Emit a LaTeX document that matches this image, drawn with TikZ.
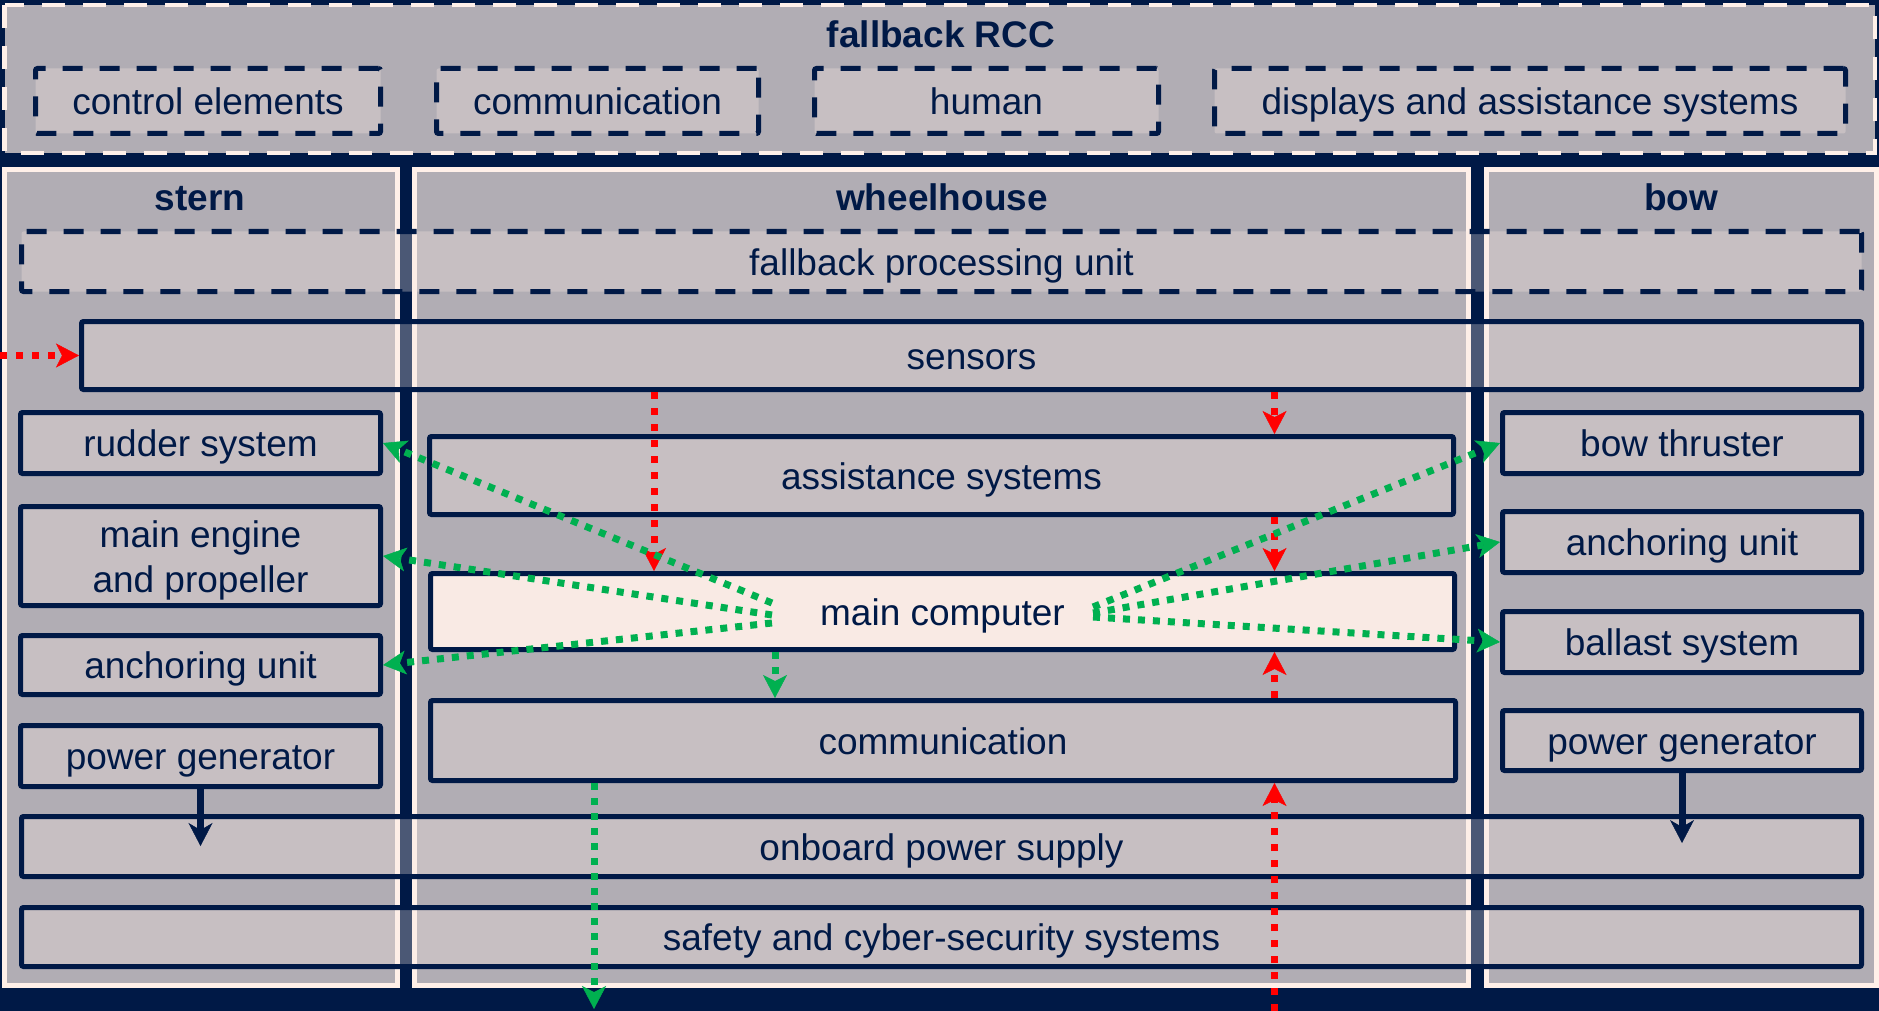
\documentclass[tikz,border=0pt]{standalone}
\usepackage{fontspec}
\setmainfont{Liberation Sans}
\usetikzlibrary{arrows.meta}

\definecolor{navy}{RGB}{0,25,70}
\definecolor{panelgray}{RGB}{177,173,180}
\definecolor{cream}{RGB}{255,240,233}
\definecolor{tint}{RGB}{250,235,228}
\definecolor{mcfill}{RGB}{249,234,228}
\definecolor{flowred}{RGB}{255,0,0}
\definecolor{flowgreen}{RGB}{0,176,80}

\newcommand\diagfont{\fontsize{37pt}{45pt}\selectfont}
\newcommand\diagbold{\fontsize{37pt}{45pt}\selectfont\bfseries}

\tikzset{
  unitbase/.style={draw=navy, line width=5pt, rounded corners=2pt,
    fill=tint, fill opacity=0.3, text opacity=1, text=navy,
    inner sep=0pt, font=\diagfont},
  unit/.style={unitbase, text height=35pt, text depth=7.5pt},
  dunit/.style={unit, dash pattern=on 20pt off 17pt},
  head/.style={text=navy, font=\diagbold, inner sep=0pt,
    text height=35pt, text depth=7.5pt},
  column/.style={fill=panelgray, draw=cream, line width=5pt},
  tip/.style={-{Stealth[length=23pt, width=24pt, inset=6pt, line width=0.5pt]}},
  redflow/.style={tip, draw=flowred, line width=7pt, dash pattern=on 7pt off 9pt},
  greenflow/.style={tip, draw=flowgreen, line width=7pt, dash pattern=on 7pt off 8pt},
  supply/.style={draw=navy, line width=7pt,
    -{Stealth[length=23pt, width=24pt, inset=7pt, line width=0.5pt]}},
}

\begin{document}
\begin{tikzpicture}[x=1pt, y=-1pt]
\useasboundingbox (0,0) rectangle (1879,1011);
\fill[navy] (0,0) rectangle (1879,1011);

% remote control centre panel
\draw[fill=panelgray, draw=cream, line width=4.5pt, dash pattern=on 23pt off 18pt]
  (4.5,5) rectangle (1875,153);
\node[head] (rcc) at (941,34) {fallback RCC};
\node[dunit, minimum width=345pt, minimum height=65pt] (ctrl) at (208,101) {control elements};
\node[dunit, minimum width=322pt, minimum height=65pt] (commrcc) at (597.5,101) {communication};
\node[dunit, minimum width=344pt, minimum height=65pt] (human) at (986.5,101) {human};
\node[dunit, minimum width=631pt, minimum height=65pt] (disp) at (1530,101) {displays and assistance systems};

% ship sections
\draw[column] (4.5,169.5) rectangle (397.5,985);
\draw[column] (414.5,169.5) rectangle (1468.5,985);
\draw[column] (1486.5,169.5) rectangle (1876.5,985);
\node[head] (stern) at (200,197) {stern};
\node[head] (wheel) at (942,197) {wheelhouse};
\node[head] (bow) at (1681,197) {bow};

% ship-wide units
\node[dunit, minimum width=1840pt, minimum height=60pt] (fpu) at (941.5,261.5) {fallback processing unit};
\node[unit, minimum width=1780pt, minimum height=68pt] (sensors) at (971.5,355.5) {sensors};
\node[unit, minimum width=1840pt, minimum height=60pt] (supplyunit) at (941.5,846.5) {onboard power supply};
\node[unit, minimum width=1840pt, minimum height=59pt] (safety) at (941.5,937) {safety and cyber-security systems};

% stern units
\node[unit, minimum width=360pt, minimum height=61pt] (rudder) at (200.5,443) {rudder system};
\node[unitbase, minimum width=360pt, minimum height=99pt, align=center] (engine) at (200.5,556)
  {\rule{0pt}{35pt}main engine\\and propeller\rule[-7.5pt]{0pt}{0pt}};
\node[unit, minimum width=360pt, minimum height=59pt] (anchS) at (200.5,665) {anchoring unit};
\node[unit, minimum width=360pt, minimum height=61pt] (pgS) at (200.5,756) {power generator};

% bow units
\node[unit, minimum width=359pt, minimum height=61pt] (thruster) at (1682,443) {bow thruster};
\node[unit, minimum width=359pt, minimum height=61pt] (anchB) at (1682,542) {anchoring unit};
\node[unit, minimum width=359pt, minimum height=61pt] (ballast) at (1682,642) {ballast system};
\node[unit, minimum width=359pt, minimum height=60pt] (pgB) at (1682,740.5) {power generator};

% wheelhouse units
\node[unit, minimum width=1024pt, minimum height=78pt] (assist) at (941.5,475.5) {assistance systems};
\node[unit, fill=mcfill, fill opacity=1, minimum width=1024pt, minimum height=76pt] (mc) at (942.5,611.5) {main computer};
\node[unit, minimum width=1025pt, minimum height=80pt] (comm) at (943,740.5) {communication};

% reference points for the connectors
\coordinate (redin) at (0,355.5);
\coordinate (xa) at (654,0);
\coordinate (xb) at (1274.5,0);
\coordinate (xc) at (775,0);
\coordinate (xd) at (594,0);
\coordinate (floor) at (0,1011);
\coordinate (floorg) at (0,1009);
\coordinate (gl1) at (772,603);
\coordinate (gl2) at (772,615);
\coordinate (gl3) at (772,623);
\coordinate (gr1) at (1093,607);
\coordinate (gr2) at (1093,613);
\coordinate (gr3) at (1093,617);
\coordinate (tipS) at (200.5,846);
\coordinate (tipB) at (1682,843);

% power supply
\draw[supply] (pgS.south) -- (tipS);
\draw[supply] (pgB.south) -- (tipB);

% sensor and data flows
\draw[redflow] (redin) -- (sensors.west);
\draw[redflow] (sensors.south -| xa) -- (mc.north -| xa);
\draw[redflow] (sensors.south -| xb) -- (assist.north -| xb);
\draw[redflow] (assist.south -| xb) -- (mc.north -| xb);
\draw[redflow] (comm.north -| xb) -- (mc.south -| xb);
\draw[redflow] (floor -| xb) -- (comm.south -| xb);

% control commands
\draw[greenflow] (gl1) -- (rudder.east);
\draw[greenflow] (gl2) -- (engine.east);
\draw[greenflow] (gl3) -- (anchS.east);
\draw[greenflow] (gr1) -- (thruster.west);
\draw[greenflow] (gr2) -- (anchB.west);
\draw[greenflow] (gr3) -- (ballast.west);
\draw[greenflow] (mc.south -| xc) -- (comm.north -| xc);
\draw[greenflow] (comm.south -| xd) -- (floorg -| xd);
\end{tikzpicture}
\end{document}
